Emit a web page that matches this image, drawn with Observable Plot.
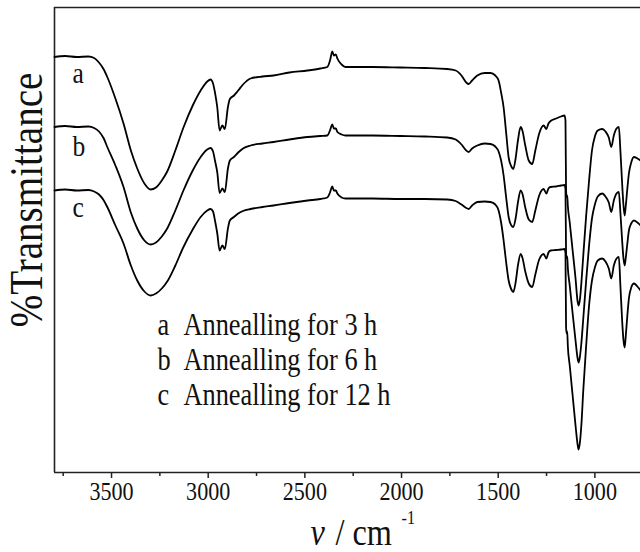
<!DOCTYPE html>
<html>
<head>
<meta charset="utf-8">
<script src="https://cdn.jsdelivr.net/npm/d3@7"></script>
<script src="https://cdn.jsdelivr.net/npm/@observablehq/plot@0.6"></script>
<style>
  html, body { margin: 0; padding: 0; background: #fff; }
</style>
</head>
<body>
<div id="chart"></div>
<script>
// Wavenumbers (cm^-1) shared by the three spectra
const wavenumbers = [
  3795,3740,3680,3620,3590,3565,3540,3522,3480,3438,
  3400,3367,3330,3298,3270,3240,3212,3170,3128,3080,
  3039,3005,2988,2975,2965,2953,2941,2927,2914,2898,
  2888,2867,2845,2820,2781,2720,2662,2580,2486,2420,
  2384,2370,2358,2350,2340,2332,2310,2290,2150,2005,
  1880,1764,1720,1690,1665,1653,1635,1608,1570,1540,
  1515,1498,1485,1472,1460,1446,1432,1422,1410,1398,
  1384,1375,1360,1342,1324,1308,1288,1265,1251,1240,
  1229,1200,1175,1157,1152,1149,1146,1143,1140,1130,
  1115,1100,1090,1084,1078,1070,1060,1045,1030,1015,
  1000,985,962,945,928,915,902,888,876,868,
  859,852,846,840,832,824,812,798,780,764
];
// Transmittance (arbitrary units, curves offset as in the figure)
const transA = [
  83.1,83.3,83.1,83.2,82.9,82.0,80.6,79.1,74.8,69.8,
  64.4,60.8,57.8,56.6,57.0,58.4,60.2,64.4,69.0,73.4,
  76.4,78.2,78.6,77.8,76.0,73.0,68.4,69.4,68.7,73.1,
  74.7,75.4,76.4,77.6,78.8,79.2,79.4,80.0,80.4,80.8,
  81.1,82.4,84.2,83.4,83.6,82.8,81.6,81.1,81.1,81.0,
  80.9,80.7,80.4,79.4,78.0,77.7,78.4,79.4,79.9,79.9,
  79.4,78.4,76.0,73.0,68.4,63.0,61.2,60.7,62.8,66.4,
  69.1,68.4,65.4,62.4,61.7,64.4,67.8,69.4,68.7,69.8,
  70.3,70.8,71.2,71.4,70.4,56.4,55.0,55.4,53.4,50.0,
  44.4,38.8,34.4,33.4,34.4,37.8,43.4,51.4,58.4,64.4,
  67.2,68.4,68.7,68.2,67.0,65.1,67.4,68.8,69.1,64.4,
  57.8,53.4,51.4,53.4,56.8,59.8,62.0,63.1,62.8,62.4
];
const transB = [
  69.1,69.3,69.1,69.2,68.9,68.2,66.8,65.1,61.4,57.1,
  52.0,48.8,46.4,45.6,46.0,47.2,48.8,52.4,56.4,60.4,
  63.1,64.6,64.9,64.2,62.4,60.0,55.9,56.8,56.1,60.8,
  62.4,63.1,64.0,64.8,65.4,65.8,66.1,66.6,67.1,67.3,
  67.4,68.4,69.6,68.8,68.8,68.1,67.6,67.4,67.4,67.3,
  67.2,67.0,66.6,65.6,64.4,64.1,64.8,65.4,65.8,65.7,
  65.2,64.2,62.4,59.4,55.4,51.1,49.4,49.1,50.8,54.0,
  56.4,55.8,53.0,50.6,50.1,52.4,55.4,56.7,55.8,56.8,
  57.1,57.2,57.4,57.5,56.6,43.8,42.8,43.2,41.0,37.4,
  31.8,26.4,23.0,22.0,23.0,25.8,30.8,38.4,45.4,50.8,
  53.6,55.2,55.8,55.2,54.0,52.1,54.4,55.8,56.1,52.0,
  46.4,42.8,41.4,43.0,45.8,48.4,49.8,50.4,50.0,49.4
];
const transC = [
  56.4,56.6,56.4,56.5,56.2,55.6,54.4,53.1,49.4,45.8,
  41.4,38.4,36.2,35.4,35.8,36.8,38.2,41.4,45.1,48.6,
  51.1,52.4,52.7,52.2,50.4,47.8,44.4,45.4,44.7,48.8,
  50.4,51.1,51.8,52.3,52.7,53.1,53.4,53.9,54.4,54.7,
  55.0,56.0,57.2,56.4,56.4,55.8,55.0,54.8,54.8,54.7,
  54.7,54.6,54.3,53.6,52.9,52.7,53.4,54.1,54.2,54.1,
  53.6,52.4,50.0,46.4,42.4,38.4,36.6,36.1,38.0,41.4,
  43.7,43.0,40.2,37.8,37.1,39.6,42.6,43.7,42.8,44.0,
  44.4,44.5,44.6,44.7,43.8,29.0,27.8,28.2,25.4,21.4,
  15.4,9.4,5.8,4.6,5.8,9.4,16.4,25.4,33.4,38.4,
  41.0,42.4,42.8,42.2,40.8,38.8,41.4,42.8,43.1,37.4,
  30.4,26.4,25.0,27.4,31.4,34.8,37.0,37.8,37.2,36.4
];
const seriesNames = ["a", "b", "c"];
const legendLabels = ["Annealling for 3 h", "Annealling for 6 h", "Annealling for 12 h"];
const majorTicks = [3500, 3000, 2500, 2000, 1500, 1000];
const minorTicks = [3750, 3250, 2750, 2250, 1750, 1250];
const xDomain = [3795, 764];
const yDomain = [0, 93];

const allSeries = [transA, transB, transC];
const table = [];
allSeries.forEach((vals, s) => {
  vals.forEach((t, i) => table.push({series: seriesNames[s], w: wavenumbers[i], t}));
});

const FONT = "Liberation Serif, Times New Roman, serif";
const INK = "#222";
const TXT = {textAnchor: "start", lineAnchor: "middle", fill: "#111"};

const marks = [
  Plot.ruleY([yDomain[0]], {stroke: INK, strokeWidth: 1.6}),
  Plot.ruleY([yDomain[1]], {stroke: INK, strokeWidth: 1.6}),
  Plot.ruleX([xDomain[0]], {stroke: INK, strokeWidth: 1.6}),
  Plot.axisX({ticks: majorTicks, tickSize: 6, tickPadding: 3, tickFormat: d => String(d),
              fontSize: 26, stroke: INK, strokeWidth: 1.5, fill: "#111", label: null}),
  Plot.axisX({ticks: minorTicks, tickSize: 4, tickFormat: () => "", stroke: INK, strokeWidth: 1.5, label: null}),
  Plot.line(table, {x: "w", y: "t", z: "series", stroke: "#000", strokeWidth: 1.8, curve: "monotone-x"})
];

// curve letters
const letterDy = [66, 139, 200];
seriesNames.forEach((s, i) => {
  marks.push(Plot.text([s], {...TXT, frameAnchor: "top-left", dx: 18, dy: letterDy[i], fontSize: 30}));
});
// in-plot legend
const legendDy = [318, 353, 388];
legendLabels.forEach((lab, i) => {
  marks.push(Plot.text([seriesNames[i]], {...TXT, frameAnchor: "top-left", dx: 103, dy: legendDy[i], fontSize: 31}));
  marks.push(Plot.text([lab], {...TXT, frameAnchor: "top-left", dx: 129, dy: legendDy[i], fontSize: 31}));
});
// y axis label
marks.push(Plot.text(["%Transmittance"], {frameAnchor: "left", textAnchor: "middle", lineAnchor: "middle",
  rotate: -90, dx: -27, dy: -40, fontSize: 46, fill: "#111"}));
// x axis label: italic nu, "/ cm", superscript -1
marks.push(Plot.text(["v"], {...TXT, frameAnchor: "bottom-left", dx: 256, dy: 60, fontSize: 38, fontStyle: "italic"}));
marks.push(Plot.text(["/ cm"], {...TXT, frameAnchor: "bottom-left", dx: 281, dy: 60, fontSize: 38}));
marks.push(Plot.text(["-1"], {...TXT, frameAnchor: "bottom-left", dx: 347, dy: 45, fontSize: 19}));

const plot = Plot.plot({
  width: 640,
  height: 552,
  marginLeft: 54,
  marginRight: 0,
  marginTop: 7,
  marginBottom: 80,
  style: {fontFamily: FONT, background: "#fff", color: "#111", overflow: "visible"},
  x: {domain: xDomain, label: null},
  y: {domain: yDomain, axis: null},
  marks
});

// condense glyphs horizontally, as the original serif lettering is narrow and tall
const K = 0.85;
plot.querySelectorAll("text").forEach(t => {
  let tr = t.getAttribute("transform");
  if (!tr) {
    const xa = t.getAttribute("x"), ya = t.getAttribute("y");
    const x = xa && !/em/.test(xa) ? +xa : 0;
    const y = ya && !/em/.test(ya) ? +ya : 0;
    if (xa && !/em/.test(xa)) t.removeAttribute("x");
    if (ya && !/em/.test(ya)) t.removeAttribute("y");
    tr = `translate(${x},${y})`;
  }
  t.setAttribute("transform", tr + ` scale(${K},1)`);
});

document.getElementById("chart").appendChild(plot);
</script>
</body>
</html>
